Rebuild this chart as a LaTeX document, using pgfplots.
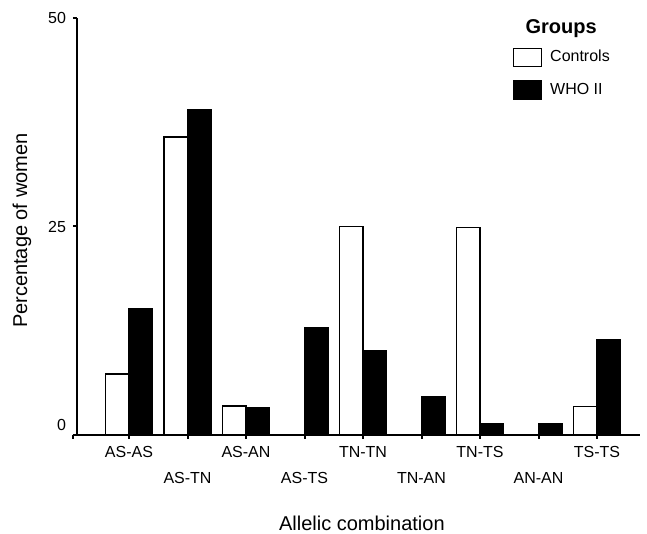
\documentclass[border=0pt]{standalone}
\usepackage{fontspec}
\setmainfont{Liberation Sans}
\usepackage{pgfplots}
\pgfplotsset{compat=1.18}
\begin{document}
\begin{tikzpicture}
\begin{axis}[
  scale only axis, width=281.5pt, height=208.5pt,
  xmin=-0.889, xmax=8.735, ymin=0, ymax=50,
  axis x line*=bottom, axis y line*=left,
  axis line style={line width=0.8pt, -},
  clip=false,
  ytick={0,25,50}, yticklabels={\raisebox{10pt}{0},25,50},
  xtick={0,2,4,6,8}, xticklabels={AS-AS,AS-AN,TN-TN,TN-TS,TS-TS},
  extra x ticks={1,3,5,7}, extra x tick labels={AS-TN,AS-TS,TN-AN,AN-AN},
  extra x tick style={xticklabel style={yshift=-13pt}},
  tick align=outside, major tick length=2pt, tick style={line width=1pt, black},
  ticklabel style={font=\fontsize{8}{9.6}\selectfont},
  /pgf/number format/assume math mode=true,
  xlabel={Allelic combination}, ylabel={Percentage of women},
  label style={font=\fontsize{10}{12}\selectfont},
  xlabel style={at={(axis description cs:0.506,-0.211)}, anchor=center},
  ylabel style={at={(axis description cs:-0.0977,0.49)}, anchor=center},
  legend style={at={(axis description cs:0.773,0.93)}, anchor=north west, draw=none, fill=none,
    inner sep=0pt, row sep=6.5pt, nodes={inner sep=1pt, font=\fontsize{8}{9.6}\selectfont}},
  legend cell align=left,
  legend image code/.code={\draw[#1] (0pt,-4.5pt) rectangle (14pt,4.5pt);},
]
\addplot[ybar, bar width=0.4, bar shift=-0.2, fill=white, draw=black, line width=0.8pt]
  coordinates {(0,7.3) (1,35.7) (2,3.5) (3,0) (4,25.0) (5,0) (6,24.9) (7,0) (8,3.4)};
\addlegendentry{\hspace{3pt}Controls}
\addplot[ybar, bar width=0.4, bar shift=0.2, fill=black, draw=black, line width=0.8pt]
  coordinates {(0,15.1) (1,39.0) (2,3.3) (3,12.9) (4,10.1) (5,4.6) (6,1.3) (7,1.3) (8,11.4)};
\addlegendentry{\hspace{3pt}WHO II}
\draw[line width=0.8pt] ([xshift=-2pt]rel axis cs:0,0) -- (rel axis cs:0,0);
\draw[line width=1pt] ([xshift=-2pt]rel axis cs:0,0) -- ([xshift=-2pt,yshift=-2pt]rel axis cs:0,0);
\node[anchor=base, font=\bfseries\fontsize{10}{12}\selectfont] at (axis description cs:0.860,0.964) {Groups};
\coordinate (ll) at (rel axis cs:0,0);
\coordinate (ur) at (rel axis cs:1,1);
\end{axis}
\pgfresetboundingbox
\path ([xshift=-38.5pt,yshift=-49.5pt]ll) rectangle ([xshift=3.5pt,yshift=9pt]ur);
\end{tikzpicture}
\end{document}
